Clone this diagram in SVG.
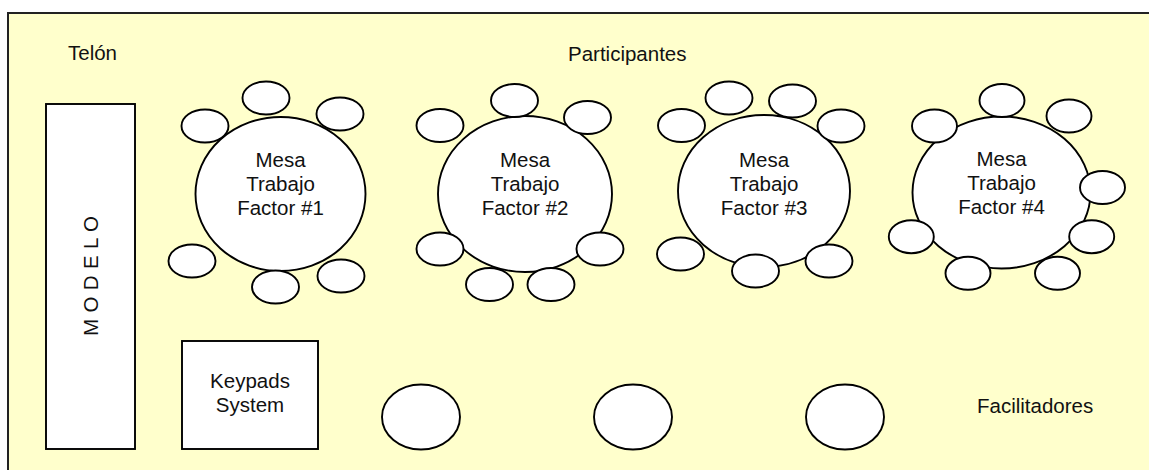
<svg xmlns="http://www.w3.org/2000/svg" width="1149" height="470" viewBox="0 0 1149 470">
<style>
  .bg { fill: #FFFFCC; stroke: #222222; stroke-width: 2; }
  .shape { fill: #FFFFFF; stroke: #000000; stroke-width: 1.9; }
  .chair { fill: #FFFFFF; stroke: #000000; stroke-width: 1.9; }
  .t { font-family: "Liberation Sans", Arial, sans-serif; font-size: 20.5px; fill: #111111; }
  .c { text-anchor: middle; }
</style>
<rect class="bg" x="8" y="13" width="1200" height="500"/>

<g id="labels">
  <text class="t" x="68" y="60">Telón</text>
  <text class="t" x="568" y="61">Participantes</text>
  <text class="t" x="977" y="413">Facilitadores</text>
</g>

<g id="modelo">
  <rect class="shape" x="46" y="104" width="89" height="345"/>
  <text class="t" transform="translate(98,336) rotate(-90)" x="0" y="0" textLength="120" lengthAdjust="spacing">M O D E L O</text>
</g>

<g id="keypads">
  <rect class="shape" x="182" y="341" width="136" height="108"/>
  <text class="t c" x="250" y="388">Keypads</text>
  <text class="t c" x="250" y="412">System</text>
</g>

<g id="mesa1">
  <ellipse class="shape" cx="280.5" cy="194" rx="85" ry="77"/>
  <ellipse class="chair" cx="266" cy="98" rx="23.5" ry="16.5"/>
  <ellipse class="chair" cx="340" cy="114" rx="23.5" ry="16.5"/>
  <ellipse class="chair" cx="205" cy="126" rx="23.5" ry="16.5"/>
  <ellipse class="chair" cx="192" cy="261" rx="23.5" ry="16.5"/>
  <ellipse class="chair" cx="275.5" cy="287" rx="23.5" ry="16.5"/>
  <ellipse class="chair" cx="341" cy="276" rx="23.5" ry="16.5"/>
  <text class="t c" x="280.5" y="167">Mesa</text>
  <text class="t c" x="280.5" y="191">Trabajo</text>
  <text class="t c" x="280.5" y="215">Factor #1</text>
</g>

<g id="mesa2">
  <ellipse class="shape" cx="525" cy="194" rx="87" ry="78"/>
  <ellipse class="chair" cx="514.5" cy="100.5" rx="23.5" ry="16.5"/>
  <ellipse class="chair" cx="587.5" cy="117.5" rx="23.5" ry="16.5"/>
  <ellipse class="chair" cx="440" cy="125.5" rx="23.5" ry="16.5"/>
  <ellipse class="chair" cx="440" cy="249" rx="23.5" ry="16.5"/>
  <ellipse class="chair" cx="600" cy="249" rx="23.5" ry="16.5"/>
  <ellipse class="chair" cx="489.5" cy="284.5" rx="23.5" ry="16.5"/>
  <ellipse class="chair" cx="551" cy="284.5" rx="23.5" ry="16.5"/>
  <text class="t c" x="525" y="167">Mesa</text>
  <text class="t c" x="525" y="191">Trabajo</text>
  <text class="t c" x="525" y="215">Factor #2</text>
</g>

<g id="mesa3">
  <ellipse class="shape" cx="764" cy="191" rx="86" ry="76"/>
  <ellipse class="chair" cx="729" cy="98" rx="23.5" ry="16.5"/>
  <ellipse class="chair" cx="792.5" cy="101" rx="23.5" ry="16.5"/>
  <ellipse class="chair" cx="681.5" cy="125.5" rx="23.5" ry="16.5"/>
  <ellipse class="chair" cx="841" cy="126" rx="23.5" ry="16.5"/>
  <ellipse class="chair" cx="680.5" cy="254" rx="23.5" ry="16.5"/>
  <ellipse class="chair" cx="755.5" cy="271" rx="23.5" ry="16.5"/>
  <ellipse class="chair" cx="829" cy="261" rx="23.5" ry="16.5"/>
  <text class="t c" x="764" y="167">Mesa</text>
  <text class="t c" x="764" y="191">Trabajo</text>
  <text class="t c" x="764" y="215">Factor #3</text>
</g>

<g id="mesa4">
  <ellipse class="shape" cx="1001.5" cy="192.5" rx="89" ry="76"/>
  <ellipse class="chair" cx="1002" cy="100.5" rx="22.5" ry="16.5"/>
  <ellipse class="chair" cx="1069" cy="116" rx="22.5" ry="16.5"/>
  <ellipse class="chair" cx="934.5" cy="126" rx="22.5" ry="16.5"/>
  <ellipse class="chair" cx="1102.5" cy="187.5" rx="22.5" ry="16.5"/>
  <ellipse class="chair" cx="1091.7" cy="236.7" rx="22.5" ry="16.5"/>
  <ellipse class="chair" cx="911.3" cy="236.7" rx="22.5" ry="16.5"/>
  <ellipse class="chair" cx="968" cy="273.3" rx="22.5" ry="16.5"/>
  <ellipse class="chair" cx="1057.5" cy="273.3" rx="22.5" ry="16.5"/>
  <text class="t c" x="1001.5" y="166">Mesa</text>
  <text class="t c" x="1001.5" y="190">Trabajo</text>
  <text class="t c" x="1001.5" y="214">Factor #4</text>
</g>

<g id="facilitadores">
  <ellipse class="shape" cx="421" cy="417" rx="39" ry="32.5"/>
  <ellipse class="shape" cx="633" cy="417" rx="39" ry="32.5"/>
  <ellipse class="shape" cx="845" cy="417" rx="39" ry="32.5"/>
</g>

<g id="connectors"></g>
</svg>
